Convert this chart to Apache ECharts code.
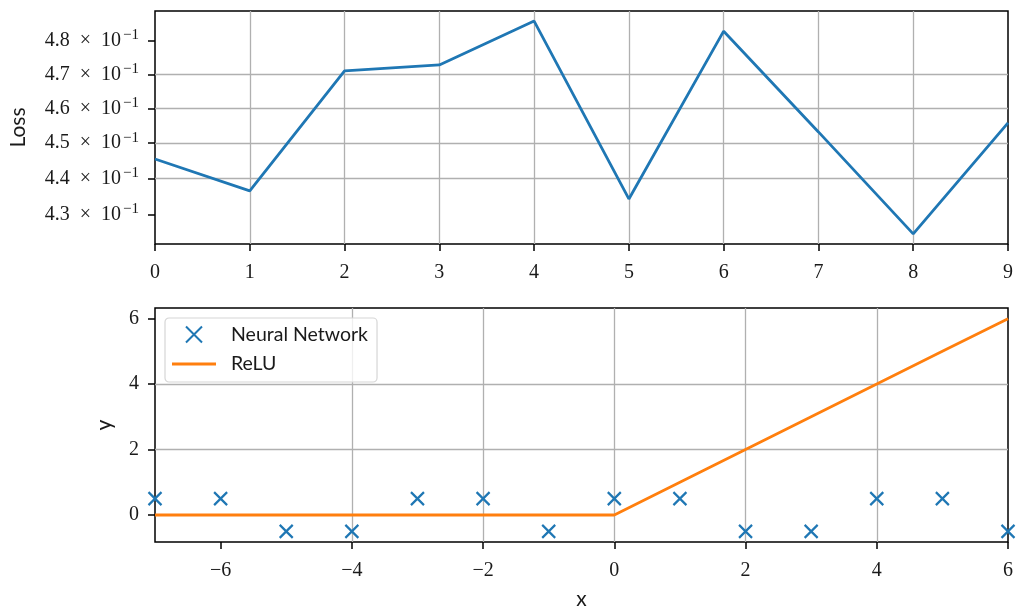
<!DOCTYPE html>
<html><head><meta charset="utf-8">
<script src="https://cdn.jsdelivr.net/npm/echarts@6/dist/echarts.min.js"></script>
<style>html,body{margin:0;padding:0;background:#fff}#c{width:1017px;height:610px}</style></head>
<body><div id="c"></div><script>
const epochs = [0,1,2,3,4,5,6,7,8,9];
const loss = [0.4455,0.4366,0.4710,0.4728,0.4861,0.4344,0.4830,0.4532,0.4249,0.4558];
const lossTicks = [0.43,0.44,0.45,0.46,0.47,0.48];
const xs = [-7,-6,-5,-4,-3,-2,-1,0,1,2,3,4,5,6];
const nn = [0.5,0.5,-0.5,-0.5,0.5,0.5,-0.5,0.5,0.5,-0.5,-0.5,0.5,0.5,-0.5];
const relu = [0,0,0,0,0,0,0,0,1,2,3,4,5,6];
const xTicks2 = [-6,-4,-2,0,2,4,6];
const yTicks2 = [0,2,4,6];

const blue = '#1f77b4', orange = '#ff7f0e';
const serif = "'Liberation Serif','DejaVu Serif',serif";
const sans = "Lato,'DejaVu Sans','Noto Sans',sans-serif";
const gridLine = {show:true, showMinLine:false, showMaxLine:false, lineStyle:{color:'#b0b0b0', width:1.3}};
const tick = {show:true, inside:false, length:7, lineStyle:{color:'#000', width:1.5}};
const noLine = {show:false, onZero:false};
const xMark = 'path://M0,0L10,10M10,0L0,10';
const lbl = {fontFamily:serif, fontSize:20, color:'#1a1a1a', margin:19};
const nameStyle = {fontFamily:sans, fontSize:21, color:'#1a1a1a'};

const chart = echarts.init(document.getElementById('c'));
chart.setOption({
  animation:false,
  backgroundColor:'#fff',
  grid:[
    {left:155, right:9, top:11, height:233, show:true, borderColor:'#000', borderWidth:1.5, containLabel:false, outerBoundsMode:'none'},
    {left:155, right:9, top:308, height:234, show:true, borderColor:'#000', borderWidth:1.5, containLabel:false, outerBoundsMode:'none'}
  ],
  legend:{
    left:165, top:318, orient:'vertical', itemGap:9, itemWidth:44, itemHeight:16,
    padding:[6,9,8,7], backgroundColor:'rgba(255,255,255,0.8)', borderColor:'#d6d6d6', borderWidth:1.2, borderRadius:4,
    textStyle:{fontFamily:sans, fontSize:19.5, lineHeight:20, color:'#1a1a1a', padding:[0,0,0,10]},
    data:[
      {name:'Neural Network', icon:xMark, itemStyle:{color:'none', borderColor:blue, borderWidth:2}},
      {name:'ReLU', icon:'path://M0,0H44V3H0Z', itemStyle:{color:orange, borderWidth:0}}
    ]
  },
  xAxis:[
    {type:'value', gridIndex:0, min:0, max:9, interval:1,
     axisLine:noLine, axisTick:tick, splitLine:gridLine,
     axisLabel:Object.assign({}, lbl)},
    {type:'value', gridIndex:1, min:-7, max:6, name:'x', nameLocation:'middle', nameGap:47,
     nameTextStyle:nameStyle,
     axisLine:noLine,
     axisTick:Object.assign({customValues:xTicks2}, tick), splitLine:gridLine,
     axisLabel:Object.assign({customValues:xTicks2, formatter:v => (v<0 ? '\u2212'+(-v) : ''+v)}, lbl)}
  ],
  yAxis:[
    {type:'log', logBase:10, gridIndex:0, min:0.4222, max:0.4892, name:'Loss', nameLocation:'middle', nameGap:126,
     nameTextStyle:nameStyle,
     axisLine:noLine,
     axisTick:Object.assign({customValues:lossTicks}, tick), splitLine:gridLine,
     axisLabel:{customValues:lossTicks, margin:16,
       formatter:v => { let r = v; if (r < 0) r = Math.pow(10, r); return '{a|' + (r*10).toFixed(1) + '\u2002\u00d7\u200210}{s|\u22121}'; },
       rich:{a:{fontFamily:serif, fontSize:20, color:'#1a1a1a'}, s:{fontFamily:serif, fontSize:15, color:'#1a1a1a', padding:[0,0,11,2]}}}},
    {type:'value', gridIndex:1, min:-0.825, max:6.325, name:'y', nameLocation:'middle', nameGap:40,
     nameTextStyle:nameStyle,
     axisLine:noLine,
     axisTick:Object.assign({customValues:yTicks2}, tick), splitLine:gridLine,
     axisLabel:Object.assign({customValues:yTicks2}, lbl, {margin:16})}
  ],
  series:[
    {type:'line', xAxisIndex:0, yAxisIndex:0, data:epochs.map((e,i)=>[e, loss[i]]),
     showSymbol:false, lineStyle:{color:blue, width:2.8}, itemStyle:{color:blue}},
    {type:'scatter', name:'Neural Network', xAxisIndex:1, yAxisIndex:1, data:xs.map((x,i)=>[x, nn[i]]),
     symbol:xMark, symbolSize:13, itemStyle:{color:'none', borderColor:blue, borderWidth:2.2, opacity:1}, z:3},
    {type:'line', name:'ReLU', xAxisIndex:1, yAxisIndex:1, data:xs.map((x,i)=>[x, relu[i]]),
     showSymbol:false, lineStyle:{color:orange, width:2.8}, itemStyle:{color:orange}, z:2}
  ]
});
</script></body></html>
